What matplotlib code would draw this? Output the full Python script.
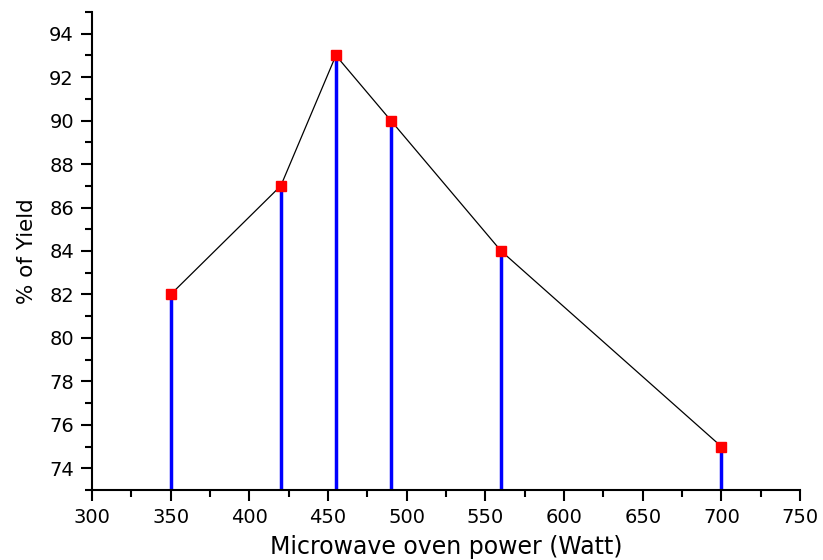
import matplotlib
matplotlib.use("Agg")
import matplotlib.pyplot as plt
from matplotlib.ticker import MultipleLocator

power = [350, 420, 455, 490, 560, 700]
yield_pct = [82, 87, 93, 90, 84, 75]

plt.rcParams['font.family'] = ['DejaVu Sans']

fig = plt.figure(figsize=(8.23, 5.6), dpi=100)
ax = fig.add_axes([0.1118, 0.125, 0.8603, 0.8536])

# blue drop lines, black connecting line, red square markers
ax.vlines(power, 73, yield_pct, colors='#0000ff', linewidth=2.5, zorder=2)
ax.plot(power, yield_pct, color='black', linewidth=0.9, zorder=3)
ax.plot(power, yield_pct, linestyle='none', marker='s', markersize=7.5,
        markerfacecolor='#ff0000', markeredgecolor='#ff0000', zorder=4)

ax.set_xlim(300, 750)
ax.set_ylim(73, 95)
ax.xaxis.set_major_locator(MultipleLocator(50))
ax.xaxis.set_minor_locator(MultipleLocator(25))
ax.yaxis.set_major_locator(MultipleLocator(2))
ax.yaxis.set_minor_locator(MultipleLocator(1))

for s in ['top', 'right']:
    ax.spines[s].set_visible(False)
for s in ['left', 'bottom']:
    ax.spines[s].set_linewidth(1.5)

ax.tick_params(which='major', direction='out', length=8, width=1.5, labelsize=14, pad=5)
ax.tick_params(which='minor', direction='out', length=5, width=1.5)

ax.set_xlabel('Microwave oven power (Watt)', fontsize=17, labelpad=6)
ax.set_ylabel('% of Yield', fontsize=15.5, labelpad=9)

fig.savefig('out.png', dpi=100)
